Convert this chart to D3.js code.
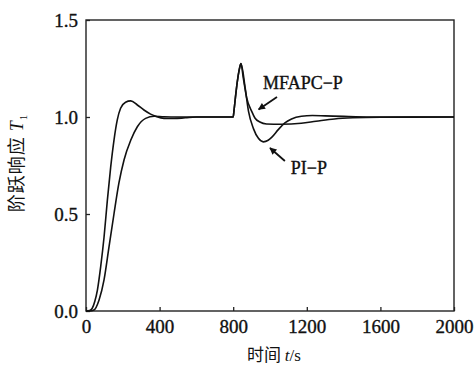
<!DOCTYPE html>
<html>
<head>
<meta charset="utf-8">
<script src="https://cdn.jsdelivr.net/npm/d3@7"></script>
<style>
  body { margin: 0; background: #fff; }
  svg { display: block; }
</style>
</head>
<body>
<svg id="chart" width="474" height="367"></svg>
<script>
// time axis ticks / value axis ticks
const xTicks = [0, 400, 800, 1200, 1600, 2000];
const yTicks = [0.0, 0.5, 1.0, 1.5];

// PI-P response
const piTime = [0, 20, 34, 48, 62, 80, 98, 116, 134, 152, 170, 188, 215, 243, 279, 315, 351, 379, 424, 478, 540, 600,
  800, 804, 812, 822, 832, 842, 865, 883, 910, 937, 964, 990, 1009, 1045, 1081, 1117, 1171, 1230, 1300, 1400, 1550, 2000];
const piValue = [0, 0.003, 0.014, 0.05, 0.108, 0.23, 0.38, 0.57, 0.74, 0.88, 0.985, 1.045, 1.076, 1.083, 1.062, 1.036, 1.015, 1.004, 0.993, 0.992, 0.996, 1.0,
  1.0, 1.03, 1.1, 1.18, 1.24, 1.275, 1.15, 1.03, 0.94, 0.89, 0.872, 0.88, 0.895, 0.935, 0.97, 0.99, 1.004, 1.008, 1.006, 1.003, 1.0, 1.0];

// MFAPC-P response
const mfTime = [0, 20, 43, 71, 98, 125, 152, 179, 207, 243, 279, 324, 370, 424, 500,
  800, 804, 812, 822, 832, 842, 855, 873, 900, 918, 945, 981, 1060, 1170, 1250, 1350, 1450, 1600, 2000];
const mfValue = [0, 0.0, 0.005, 0.057, 0.16, 0.33, 0.5, 0.66, 0.78, 0.88, 0.95, 0.993, 1.004, 1.001, 1.0,
  1.0, 1.03, 1.1, 1.18, 1.24, 1.275, 1.2, 1.1, 1.03, 0.995, 0.974, 0.964, 0.963, 0.968, 0.978, 0.99, 0.996, 0.999, 1.0];

const svg = d3.select("#chart");
const margin = {top: 20, right: 20, bottom: 56, left: 86};
const width = 474 - margin.left - margin.right;
const height = 367 - margin.top - margin.bottom;

const g = svg.append("g")
  .attr("transform", "translate(" + margin.left + "," + margin.top + ")");

const x = d3.scaleLinear().domain([0, 2000]).range([0, width]);
const y = d3.scaleLinear().domain([0, 1.5]).range([height, 0]);

const serif = "'Liberation Serif', 'Times New Roman', serif";

// axes, ticks pointing inwards
const xAxis = g.append("g")
  .attr("transform", "translate(0," + height + ")")
  .call(d3.axisBottom(x).tickValues(xTicks).tickFormat(d3.format("d")).tickSizeInner(-4).tickSizeOuter(0).tickPadding(8.5));
const yAxis = g.append("g")
  .call(d3.axisLeft(y).tickValues(yTicks).tickFormat(d3.format(".1f")).tickSizeInner(-4).tickSizeOuter(0).tickPadding(8));

[xAxis, yAxis].forEach(a => {
  a.select(".domain").remove();
  a.selectAll("line").attr("stroke", "#222").attr("stroke-width", 1.3);
  a.selectAll("text")
    .attr("fill", "#111").attr("stroke", "#111").attr("stroke-width", 0.35)
    .style("font-family", serif).style("font-size", "19px");
});

// frame
g.append("rect")
  .attr("width", width).attr("height", height)
  .attr("fill", "none").attr("stroke", "#222").attr("stroke-width", 1.4);

// curves
const line = d3.line()
  .x(d => x(d[0]))
  .y(d => y(d[1]))
  .curve(d3.curveMonotoneX);

const series = [
  {name: "PI-P", data: d3.zip(piTime, piValue)},
  {name: "MFAPC-P", data: d3.zip(mfTime, mfValue)}
];

g.selectAll(".curve")
  .data(series)
  .enter()
  .append("path")
  .attr("class", "curve")
  .attr("d", d => line(d.data))
  .attr("fill", "none")
  .attr("stroke", "#111")
  .attr("stroke-width", 1.6)
  .attr("stroke-linejoin", "round");

// annotations
svg.append("defs").append("marker")
  .attr("id", "head")
  .attr("viewBox", "0 0 10 10")
  .attr("refX", 9).attr("refY", 5)
  .attr("markerWidth", 9).attr("markerHeight", 7)
  .attr("markerUnits", "userSpaceOnUse")
  .attr("orient", "auto")
  .append("path")
  .attr("d", "M0,0L10,5L0,10z")
  .attr("fill", "#111");

const notes = [
  {text: "MFAPC\u2212P", tx: 962, ty: 1.142, from: [1038, 1.103], to: [938, 1.039]},
  {text: "PI\u2212P", tx: 1113, ty: 0.706, from: [1081, 0.773], to: [1000, 0.84]}
];

notes.forEach(n => {
  g.append("line")
    .attr("x1", x(n.from[0])).attr("y1", y(n.from[1]))
    .attr("x2", x(n.to[0])).attr("y2", y(n.to[1]))
    .attr("stroke", "#111").attr("stroke-width", 1.8)
    .attr("marker-end", "url(#head)");
  g.append("text")
    .attr("x", x(n.tx)).attr("y", y(n.ty))
    .attr("fill", "#111").attr("stroke", "#111").attr("stroke-width", 0.35)
    .style("font-family", serif).style("font-size", "18px")
    .text(n.text);
});

// axis titles
const yl = svg.append("text")
  .attr("transform", "translate(23,163) rotate(-90)")
  .attr("text-anchor", "middle")
  .attr("fill", "#111")
  .style("font-family", "'Noto Sans CJK SC', sans-serif").style("font-size", "18px")
  .style("letter-spacing", "1px");
yl.append("tspan").text("阶跃响应 ");
yl.append("tspan").style("font-family", serif).style("font-style", "italic").text("T");
yl.append("tspan").style("font-family", serif).style("font-size", "11px").attr("dy", 4).text("1");

const xl = svg.append("text")
  .attr("x", 274).attr("y", 361)
  .attr("text-anchor", "middle")
  .attr("fill", "#111")
  .style("font-family", "'Noto Sans CJK SC', sans-serif").style("font-size", "17px");
xl.append("tspan").text("时间 ");
xl.append("tspan").style("font-family", serif).style("font-style", "italic").text("t");
xl.append("tspan").style("font-family", serif).text("/s");
</script>
</body>
</html>
